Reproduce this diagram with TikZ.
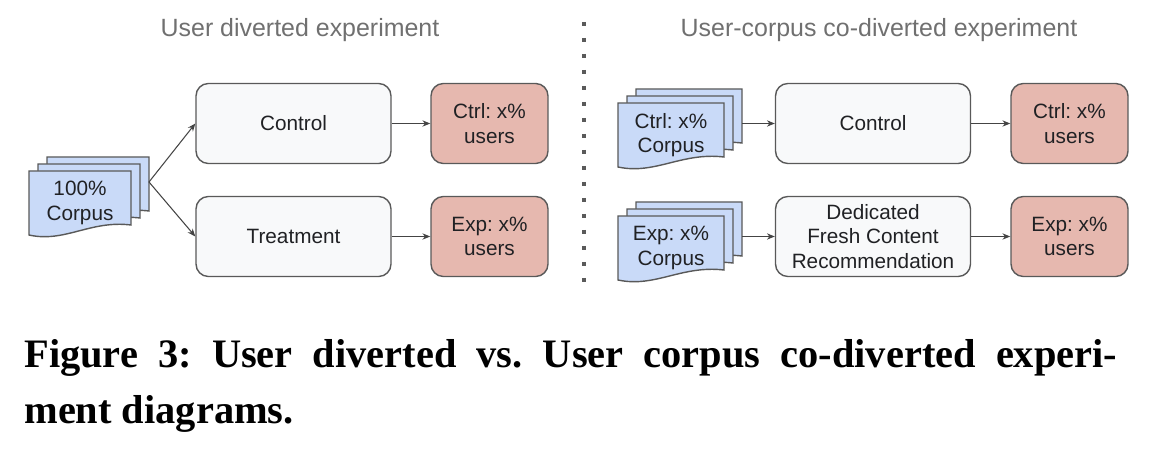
\documentclass[tikz,border=0pt]{standalone}
\usepackage{fontspec}
\setmainfont{Liberation Sans}
\newfontfamily\capfont{Liberation Serif}
\usetikzlibrary{arrows.meta}
\frenchspacing

\definecolor{docblue}{HTML}{C9DAF8}
\definecolor{boxgray}{HTML}{F8F9FA}
\definecolor{userred}{HTML}{E6B8AF}
\definecolor{edgegray}{HTML}{595959}
\definecolor{arrowgray}{HTML}{444444}
\definecolor{titlegray}{HTML}{707070}
\definecolor{sepgray}{HTML}{5A5A5A}
\definecolor{textblack}{HTML}{202124}

\tikzset{
  box/.style={draw=edgegray, line width=0.8pt, fill=boxgray, rounded corners=7pt,
    minimum width=3.9cm, minimum height=1.6cm, inner sep=0pt, align=center,
    text=textblack, font=\fontsize{11.8}{14}\selectfont},
  userbox/.style={box, fill=userred, minimum width=2.34cm},
  corpus/.style={draw=edgegray, line width=0.8pt, fill=docblue},
  corpustext/.style={align=center, inner sep=0pt, text=textblack,
    font=\fontsize{11.8}{14}\selectfont},
  flow/.style={draw=arrowgray, line width=0.6pt, -{Stealth[length=4.5pt,width=3.6pt]}},
  title/.style={text=titlegray, font=\fontsize{14.2}{16}\selectfont},
  separator/.style={draw=sepgray, line width=2.3pt, dash pattern=on 2.3pt off 6.8pt},
  caption/.style={anchor=base west, inner sep=0pt, font=\capfont\bfseries\fontsize{23}{26}\selectfont}
}

% one sheet: top left corner (#1,#2), width #3
\newcommand{\corpusdoc}[3]{%
  \draw[corpus] (#1,#2) -- (#1+#3,#2) -- (#1+#3,#2+54)
    .. controls (#1+0.6*#3,#2+49) and (#1+0.35*#3,#2+72) .. (#1,#2+64) -- cycle;}

% stack of three sheets, front sheet at (#1,#2), width #3, text node #4
\newcommand{\corpusstack}[5]{%
  \corpusdoc{#1+18}{#2-14}{#3}
  \corpusdoc{#1+9}{#2-7}{#3}
  \corpusdoc{#1}{#2}{#3}
  \node[corpustext] (#4) at (#1+0.5*#3,#2+32) {#5};}

\begin{document}
\begin{tikzpicture}[x=0.02cm, y=-0.02cm]
\useasboundingbox (0,0) rectangle (1160,452);

% titles and separator
\node[title] (lefttitle) at (300,30) {User diverted experiment};
\node[title] (righttitle) at (879,30) {User-corpus co-diverted experiment};
\draw[separator] (584,22) -- (584,286);

% user diverted
\corpusstack{29}{171}{102}{allcorpus}{100\%\\Corpus}
\coordinate (allout) at (149,182);
\node[box] (control) at (293.5,123.5) {Control};
\node[box] (treatment) at (293.5,236.5) {Treatment};
\node[userbox] (ctrlusers) at (489.5,123.5) {Ctrl: x\%\\users};
\node[userbox] (expusers) at (489.5,236.5) {Exp: x\%\\users};
\draw[flow] (allout) -- (control.west);
\draw[flow] (allout) -- (treatment.west);
\draw[flow] (control.east) -- (ctrlusers.west);
\draw[flow] (treatment.east) -- (expusers.west);

% user-corpus co-diverted
\corpusstack{618}{103}{106}{ctrlcorpus}{Ctrl: x\%\\Corpus}
\corpusstack{618}{216}{106}{expcorpus}{Exp: x\%\\Corpus}
\coordinate (ctrlout) at (742,123.5);
\coordinate (expout) at (742,236.5);
\node[box] (control2) at (873,123.5) {Control};
\node[box] (fresh) at (873,236.5) {Dedicated\\Fresh Content\\Recommendation};
\node[userbox] (ctrlusers2) at (1069.5,123.5) {Ctrl: x\%\\users};
\node[userbox] (expusers2) at (1069.5,236.5) {Exp: x\%\\users};
\draw[flow] (ctrlout) -- (control2.west);
\draw[flow] (expout) -- (fresh.west);
\draw[flow] (control2.east) -- (ctrlusers2.west);
\draw[flow] (fresh.east) -- (expusers2.west);

% caption
\node[caption] (capline1) at (24,368) {\makebox[622pt][s]{Figure 3: User diverted vs. User corpus co-diverted experi-}};
\node[caption] (capline2) at (24,424) {ment diagrams.};
\end{tikzpicture}
\end{document}
